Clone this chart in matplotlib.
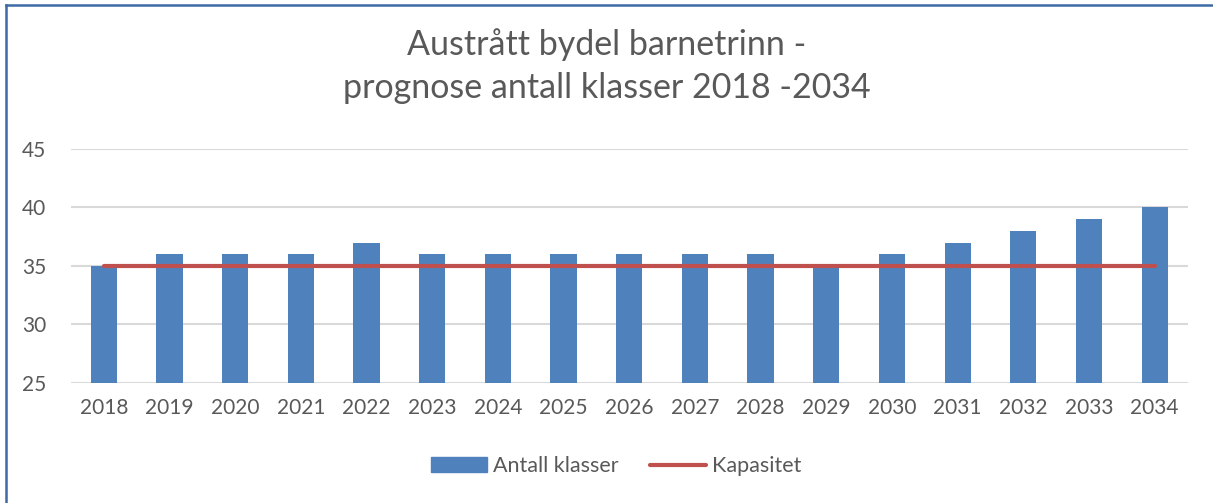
import numpy as np
import matplotlib.pyplot as plt
from matplotlib.lines import Line2D

#data
years = [str(y) for y in range(2018, 2035)]
klasser = [35, 36, 36, 36, 37, 36, 36, 36, 36, 36, 36, 35, 36, 37, 38, 39, 40]
kapasitet = [35] * 17

plt.rcParams['font.family'] = ['Lato', 'DejaVu Sans']
text_col = "#595959"

fig = plt.figure(figsize=(12.13, 5.03), dpi=100)
ax = fig.add_axes([0.0585, 0.2386, 0.9205, 0.4652])

x = np.arange(len(years))
ax.bar(x, klasser, width=0.4, color="#4F81BD", label="Antall klasser", zorder=2)
ax.plot(x, kapasitet, color="#C0504D", linewidth=3, solid_capstyle="round",
        label="Kapasitet", zorder=3)

ax.set_xlim(-0.5, len(years) - 0.5)
ax.set_ylim(25, 45)
ax.set_yticks([25, 30, 35, 40, 45])
ax.set_xticks(x)
ax.set_xticklabels(years)
ax.tick_params(axis="both", length=0, labelsize=15, colors=text_col, pad=11)
ax.tick_params(axis="y", pad=18)
ax.grid(axis="y", color="#D9D9D9", linewidth=1.5, zorder=0)
for s in ax.spines.values():
    s.set_visible(False)
ax.set_axisbelow(True)

fig.suptitle("Austrått bydel barnetrinn -\nprognose antall klasser 2018 -2034",
             y=0.945, fontsize=24.5, color=text_col, linespacing=1.45)

handles = [plt.Rectangle((0, 0), 1, 1, color="#4F81BD"),
           Line2D([0], [0], color="#C0504D", linewidth=3, solid_capstyle="round")]
fig.legend(handles, ["Antall klasser", "Kapasitet"], loc="center",
           bbox_to_anchor=(0.508, 0.073), ncol=2, frameon=False, fontsize=15.5,
           labelcolor=text_col, handlelength=2.6, handletextpad=0.25,
           columnspacing=1.5, handleheight=0.7)

#frame lines at left and top
fig.add_artist(Line2D([6 / 1213, 6 / 1213], [0, 1 - 5 / 503], color="#3D6AA6",
                      linewidth=1.8, transform=fig.transFigure))
fig.add_artist(Line2D([6 / 1213, 1], [1 - 5 / 503, 1 - 5 / 503], color="#3D6AA6",
                      linewidth=1.8, transform=fig.transFigure))

plt.savefig("out.png", dpi=100)
